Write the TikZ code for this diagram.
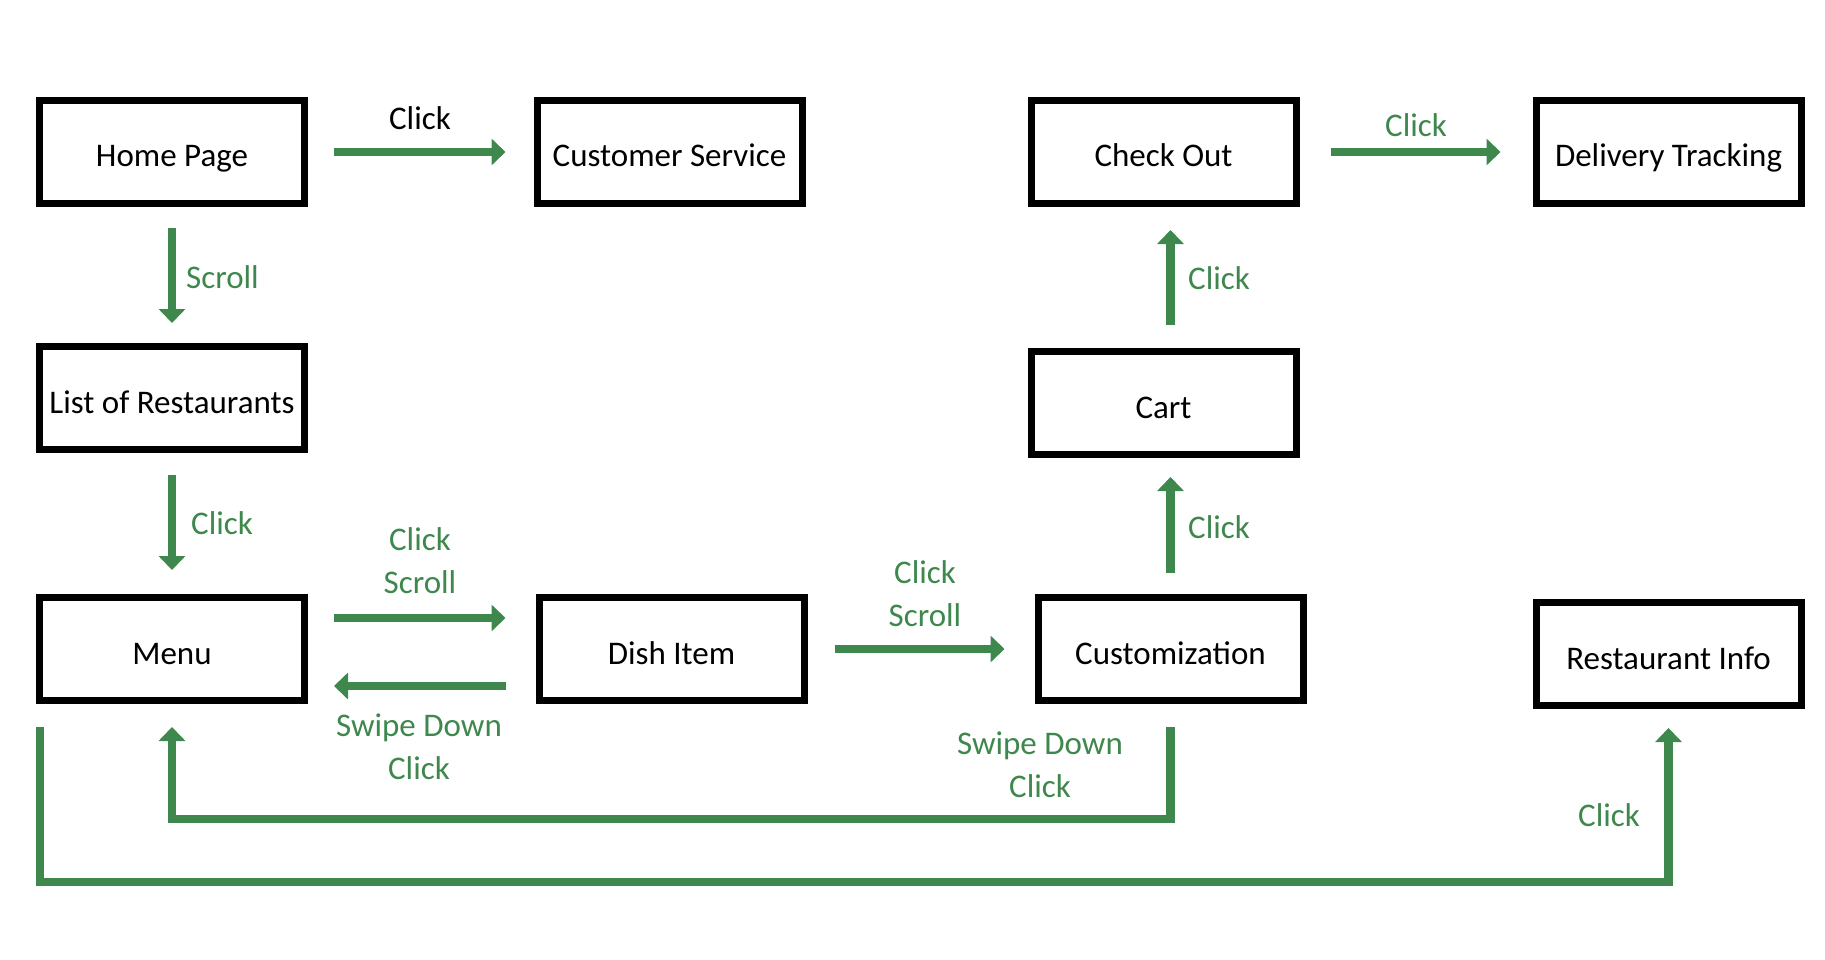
\documentclass[tikz,border=0pt]{standalone}
\usepackage{fontspec}
\setmainfont{Carlito}
\usetikzlibrary{arrows.meta}
\definecolor{flowgreen}{RGB}{62,135,77}

\begin{document}
\begin{tikzpicture}[x=1pt,y=-1pt]
    \tikzstyle{screen}=[draw, line width=7pt, minimum width=265pt, minimum height=103pt, inner sep=0pt, text height=30pt, text depth=0pt, font=\fontsize{33pt}{40pt}\selectfont]
    \tikzstyle{flow}=[flowgreen, line width=8.5pt, line join=miter, -{Triangle[width=26pt,length=14pt]}]
    \tikzstyle{lbl}=[flowgreen, inner sep=0pt, align=center, font=\fontsize{33pt}{43pt}\selectfont]

    \useasboundingbox (0,0) rectangle (1825,960);

    % Draw screens
    \node[screen] (home) at (172,152) {Home Page};
    \node[screen] (cs) at (669.5,152) {Customer Service};
    \node[screen] (checkout) at (1163.5,152) {Check Out};
    \node[screen] (delivery) at (1668.5,152) {Delivery Tracking};
    \node[screen] (list) at (172,398) {List of Restaurants};
    \node[screen] (cart) at (1163.5,403) {Cart};
    \node[screen] (menu) at (172,649) {Menu};
    \node[screen] (dish) at (671.5,649) {Dish Item};
    \node[screen] (custom) at (1170.5,649) {Customization};
    \node[screen] (info) at (1668.5,654) {Restaurant Info};

    % Add forward arrows
    \draw[flow, shorten <=26pt, shorten >=28pt] (home) -- (cs);
    \draw[flow, shorten <=21pt, shorten >=20pt] (home) -- (list);
    \draw[flow, shorten <=22pt, shorten >=24pt] (list) -- (menu);
    \draw[flow, shorten <=26pt, shorten >=30pt] ([yshift=31pt]menu.east) -- ([yshift=31pt]dish.west);
    \draw[flow, shorten <=30pt, shorten >=26pt] ([yshift=-37pt]dish.west) -- ([yshift=-37pt]menu.east);
    \draw[flow, shorten <=27pt, shorten >=30pt] (dish) -- (custom);
    \draw[flow, shorten <=21pt, shorten >=19pt] (custom.north) -- (custom.north |- cart.south);
    \draw[flow, shorten <=23pt, shorten >=23pt] ([xshift=7pt]cart.north) -- ([xshift=7pt]checkout.south);
    \draw[flow, shorten <=31pt, shorten >=32pt] (checkout) -- (delivery);

    % Add return paths
    \draw[flow] ([yshift=-23pt]custom.south) -- ++(0,92) -| ([yshift=-23pt]menu.south);
    \draw[flow] ([xshift=4pt,yshift=-23pt]menu.south west) -- ++(0,155) -| ([yshift=-19pt]info.south);

    % Add gesture labels
    \node[lbl, text=black] (clickcs) at (420,118) {Click};
    \node[lbl, anchor=west] (scrolllist) at (186,277) {Scroll};
    \node[lbl, anchor=west] (clickmenu) at (191,523) {Click};
    \node[lbl] (clickdish) at (420,561) {Click\\Scroll};
    \node[lbl] (swipemenu) at (419,747) {Swipe Down\\Click};
    \node[lbl] (clickcustom) at (925,594) {Click\\Scroll};
    \node[lbl] (swipecustom) at (1040,765) {Swipe Down\\Click};
    \node[lbl, anchor=west] (clickcart) at (1188,527) {Click};
    \node[lbl, anchor=west] (clickcheckout) at (1188,278) {Click};
    \node[lbl] (clickdelivery) at (1416,125) {Click};
    \node[lbl] (clickinfo) at (1609,815) {Click};
\end{tikzpicture}
\end{document}
